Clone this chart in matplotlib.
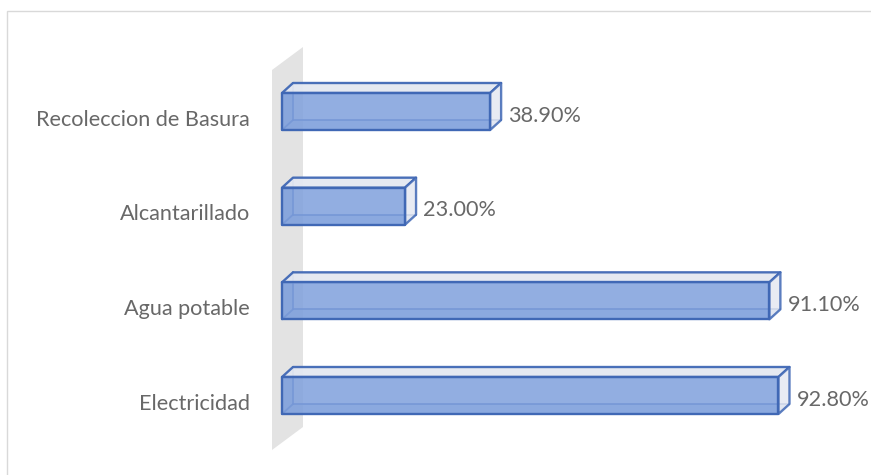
import matplotlib
matplotlib.use("Agg")
import matplotlib.pyplot as plt
from matplotlib.patches import Polygon, Rectangle

# Service coverage (%) by category
categories = ["Recoleccion de Basura", "Alcantarillado", "Agua potable", "Electricidad"]
coverage = [38.9, 23.0, 91.1, 92.8]
value_labels = ["38.90%", "23.00%", "91.10%", "92.80%"]

W, H = 871, 475
fig = plt.figure(figsize=(W / 100, H / 100), dpi=100)
fig.patch.set_facecolor("white")

# Plot-area geometry (pixels)
PX_LEFT = 282
PX_PER_PCT = 5.35
ROW_PX = 94.67
FIRST_ROW_PX = 111.5
n = len(categories)
top_px = FIRST_ROW_PX - ROW_PX / 2
bottom_px = top_px + ROW_PX * n
ax = fig.add_axes([PX_LEFT / W, 1 - bottom_px / H, 100 * PX_PER_PCT / W, (bottom_px - top_px) / H])
ax.set_xlim(0, 100)
ax.set_ylim(n - 0.5, -0.5)
ax.axis("off")

def px_x(p):
    return p / PX_PER_PCT

def px_y(p):
    return p / ROW_PX

# 3-D styling
DX, DY = px_x(11), px_y(-10)        # bar depth vector
HH = px_y(18.5)                     # half bar height
EDGE = "#4068B5"
FRONT = "#7FA0DC"
LIGHT = "#E4E8F1"
TXT = "#686868"
FONT = "Lato"
FS = 15.6

# Chart border
fig.add_artist(Rectangle((7 / W, -0.1), 1.2, 1 - 11 / H + 0.1, transform=fig.transFigure,
                         fill=False, edgecolor="#D9D9D9", lw=1))

# Side wall at value 0
wf_x, wb_x = px_x(-10), px_x(21)
wf_top, wf_bot = px_y(-41.5), (n - 1) + px_y(54.5)
shift = px_y(-23)
wall = Polygon([(wf_x, wf_top), (wb_x, wf_top + shift), (wb_x, wf_bot + shift), (wf_x, wf_bot)],
               closed=True, facecolor="#E3E3E3", edgecolor="none", clip_on=False, zorder=1)
ax.add_patch(wall)

lw = 1.7
for i, v in enumerate(coverage):
    c = i
    t, b = c - HH, c + HH
    # faces hidden behind the translucent front
    bottom = Polygon([(0, b), (v, b), (v + DX, b + DY), (DX, b + DY)], closed=True,
                     facecolor=FRONT, edgecolor="none", alpha=0.35, clip_on=False, zorder=2)
    left = Polygon([(0, t), (DX, t + DY), (DX, b + DY), (0, b)], closed=True,
                   facecolor=FRONT, edgecolor="none", alpha=0.35, clip_on=False, zorder=2)
    ax.add_patch(bottom)
    ax.add_patch(left)
    # hidden edges
    for xs, ys in [([DX, DX], [t + DY, b + DY]),
                   ([DX, v + DX], [b + DY, b + DY]),
                   ([0, DX], [b, b + DY])]:
        ax.plot(xs, ys, color=EDGE, lw=lw * 0.8, alpha=0.85, clip_on=False, zorder=2,
                solid_capstyle="round")
    top = Polygon([(0, t), (v, t), (v + DX, t + DY), (DX, t + DY)], closed=True,
                  facecolor=LIGHT, edgecolor=EDGE, lw=lw, alpha=0.95, clip_on=False, zorder=3,
                  joinstyle="round")
    end = Polygon([(v, t), (v + DX, t + DY), (v + DX, b + DY), (v, b)], closed=True,
                  facecolor=LIGHT, edgecolor=EDGE, lw=lw, alpha=0.85, clip_on=False, zorder=3,
                  joinstyle="round")
    front = Polygon([(0, t), (v, t), (v, b), (0, b)], closed=True,
                    facecolor=FRONT, edgecolor="none", alpha=0.85, clip_on=False, zorder=4)
    front_edge = Polygon([(0, t), (v, t), (v, b), (0, b)], closed=True,
                         facecolor="none", edgecolor=EDGE, lw=lw, clip_on=False, zorder=5,
                         joinstyle="round")
    for p in (top, end, front, front_edge):
        ax.add_patch(p)

    ax.annotate(categories[i], xy=(0, c), xytext=(-32, -8), textcoords="offset pixels",
                ha="right", va="center", fontsize=FS, color=TXT, family=FONT)
    ax.annotate(value_labels[i], xy=(v, c), xytext=(18, -4), textcoords="offset pixels",
                ha="left", va="center", fontsize=FS, color=TXT, family=FONT)

fig.savefig("out.png", dpi=100, facecolor="white")
